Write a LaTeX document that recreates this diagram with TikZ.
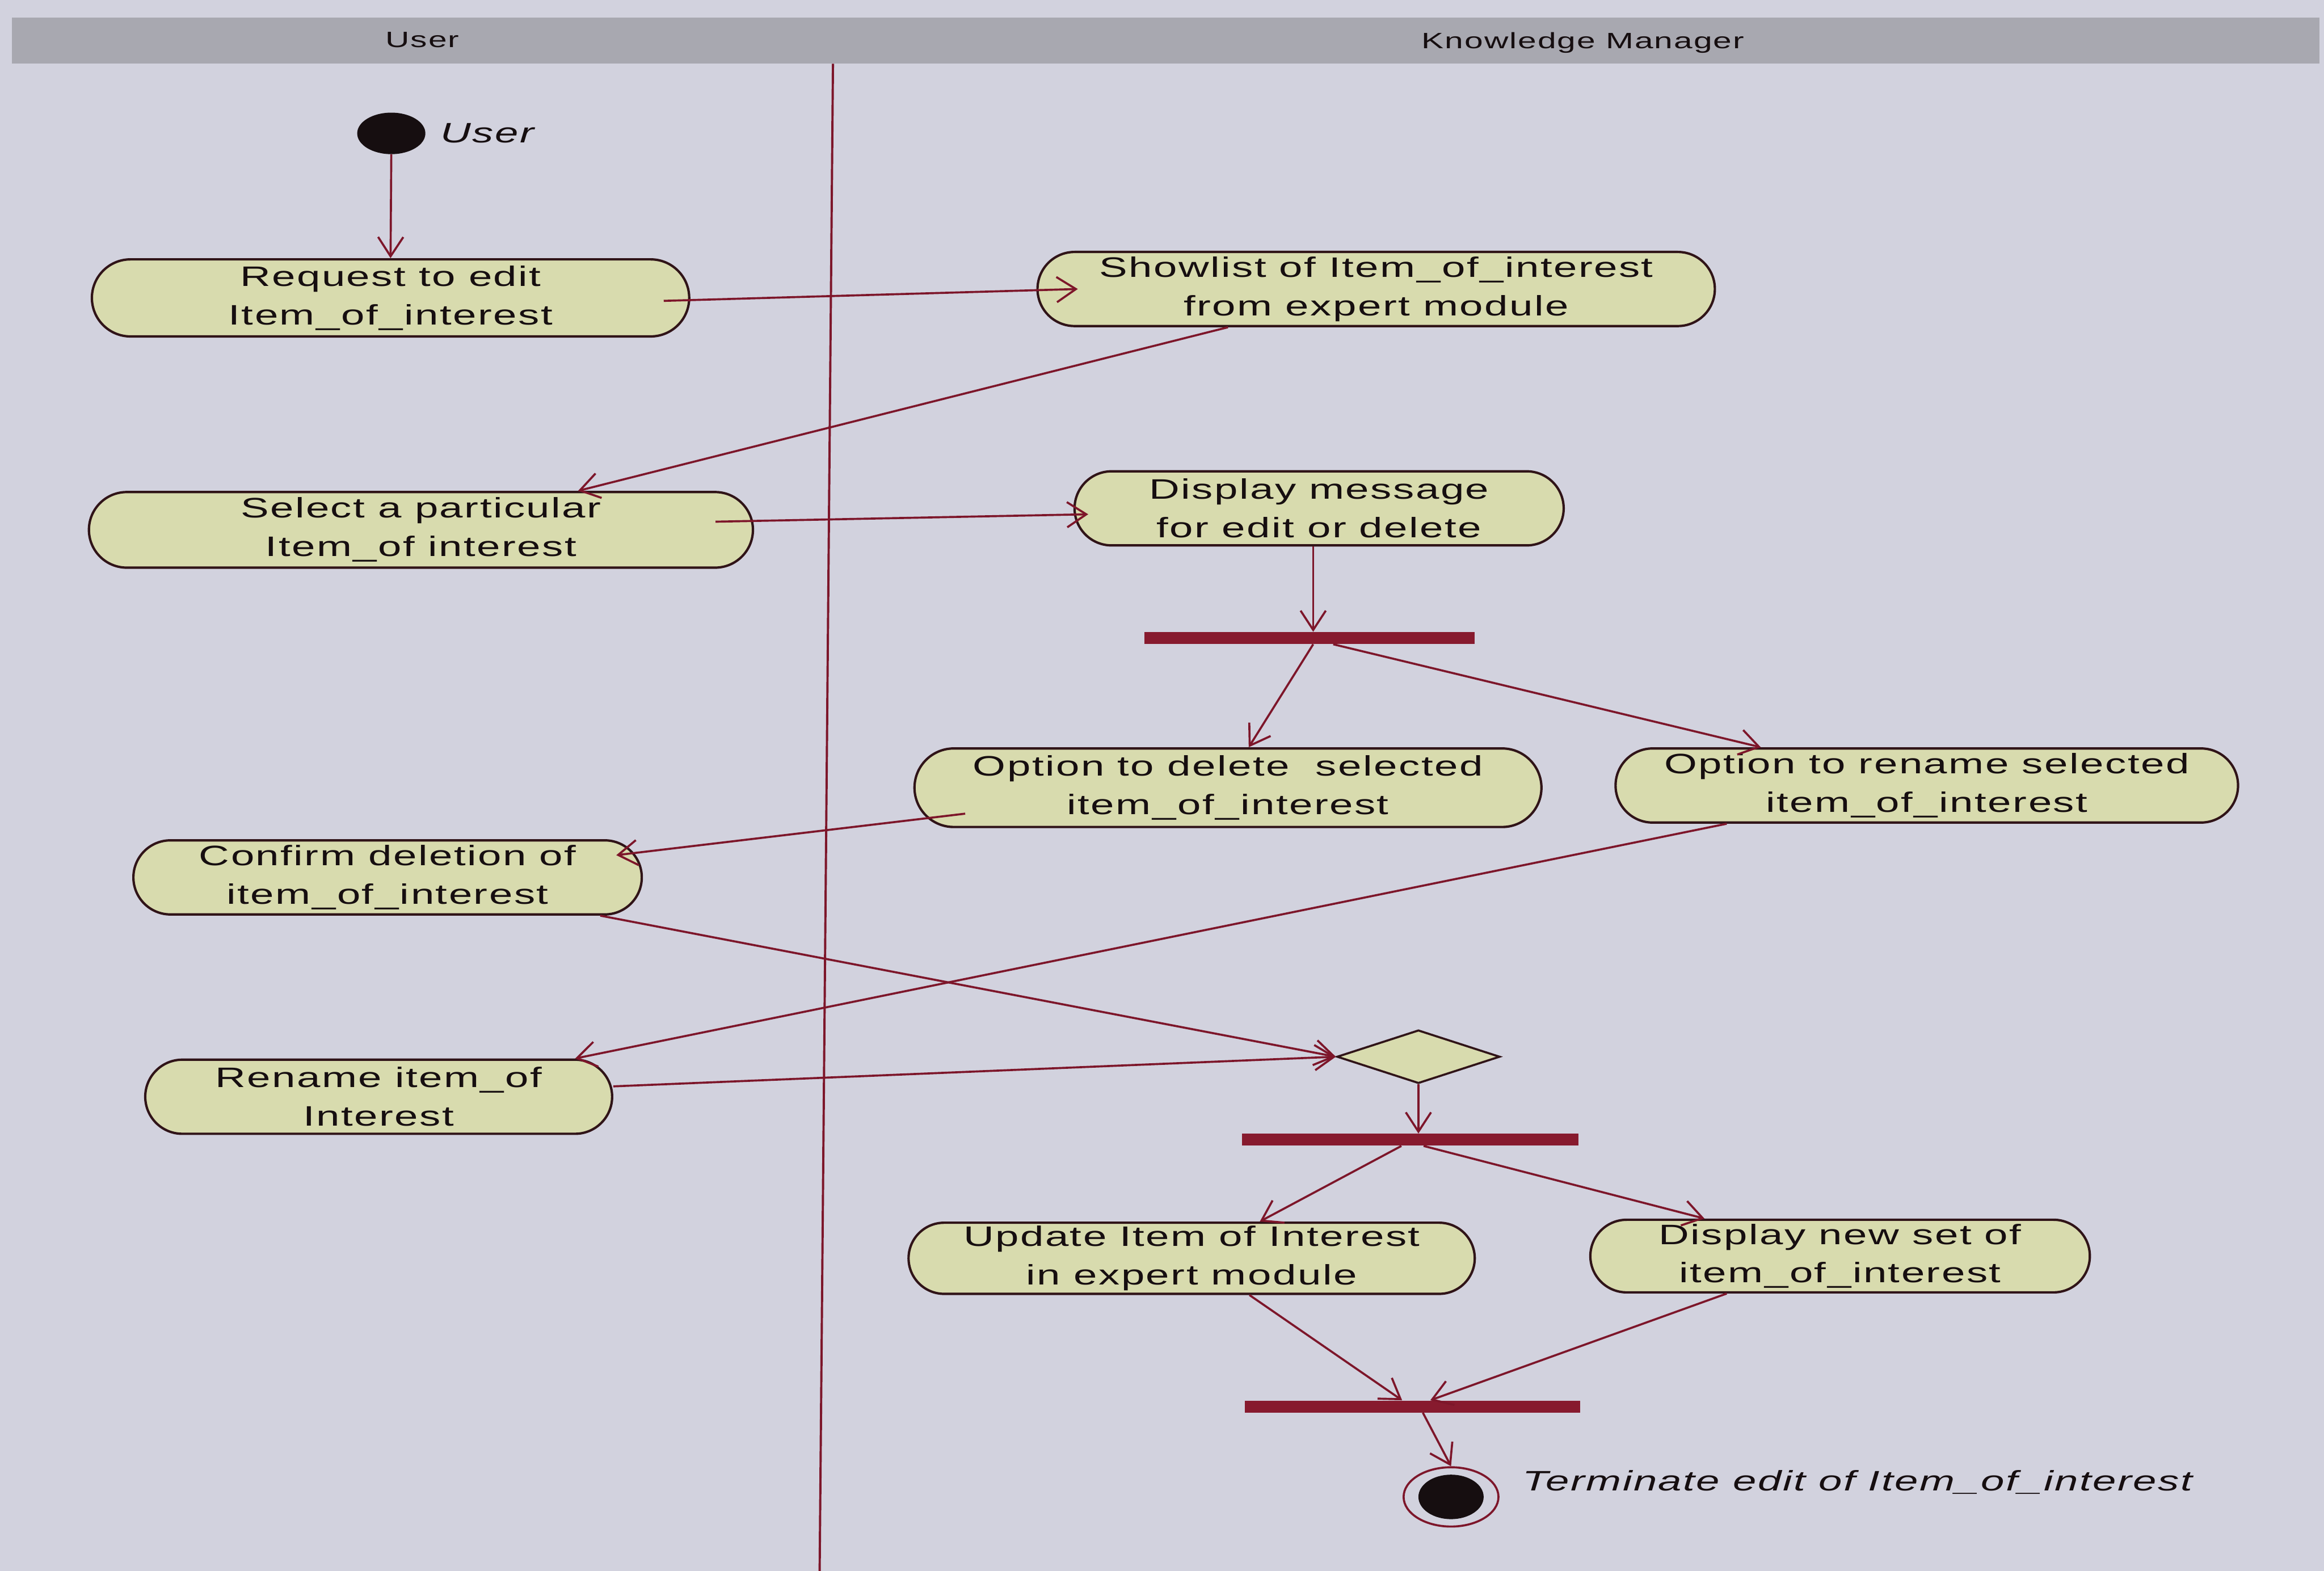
\documentclass[tikz,border=0pt]{standalone}
\usepackage{fontspec}
\setmainfont{Liberation Sans}
\newfontfamily\actfont{Liberation Sans}[FakeStretch=1.5,LetterSpace=5]
\usetikzlibrary{shapes.misc,shapes.geometric,arrows.meta,calc}
\definecolor{paper}{RGB}{210,210,222}
\definecolor{headband}{RGB}{168,168,176}
\definecolor{wine}{RGB}{125,22,42}
\definecolor{barwine}{RGB}{135,26,46}
\definecolor{khaki}{RGB}{216,219,174}
\definecolor{rimcol}{RGB}{48,20,24}
\definecolor{ink}{RGB}{22,14,16}
\begin{document}
\begin{tikzpicture}[x=1pt,y=-1pt,
  activity/.style={rounded rectangle, draw=rimcol, line width=1.6pt, fill=khaki,
    inner sep=0pt, align=center, text=ink,
    font=\actfont\fontsize{19}{26}\selectfont},
  syncbar/.style={rectangle, fill=barwine, inner sep=0pt, minimum height=8pt},
  flow/.style={draw=wine, line width=1.4pt,
    -{Straight Barb[length=13pt,width=17pt,line width=1.4pt]}},
  lanetitle/.style={inner sep=0pt, text=ink, font=\actfont\fontsize{15}{18}\selectfont},
  statelabel/.style={anchor=west, inner sep=0pt, text=ink,
    font=\actfont\itshape\fontsize{19}{22}\selectfont}
]
\useasboundingbox (0,0) rectangle (1568,1060);
\fill[paper] (0,0) rectangle (1568,1060);

% swimlane header and divider
\fill[headband] (8,12) rectangle (1565,43);
\node[lanetitle] (laneUser) at (285,27) {User};
\node[lanetitle] (laneKM) at (1068,29) {Knowledge Manager};
\coordinate (laneTop) at (562,43);
\coordinate (laneBot) at (553,1060);
\draw[wine, line width=1.5pt] (laneTop) -- (laneBot);

% initial state
\node[ellipse, fill=ink, minimum width=46pt, minimum height=28pt, inner sep=0pt] (start) at (264,90) {};
\node[statelabel] (startlbl) at (297,90) {User};

% activities
\node[activity, minimum width=403pt, minimum height=52pt] (req) at (263.5,201)
  {Request to edit\\Item\_of\_interest};
\node[activity, minimum width=457pt, minimum height=50pt] (show) at (928.5,195)
  {Showlist of Item\_of\_interest\\from expert module};
\node[activity, minimum width=448pt, minimum height=51pt] (sel) at (284,357.5)
  {Select a particular\\Item\_of interest};
\node[activity, minimum width=330pt, minimum height=50pt] (disp) at (890,343)
  {Display message\\for edit or delete};
\node[activity, minimum width=423pt, minimum height=53pt] (optdel) at (828.5,531.5)
  {Option to delete~ selected\\item\_of\_interest};
\node[activity, minimum width=420pt, minimum height=50pt] (optren) at (1300,530)
  {Option to rename selected\\item\_of\_interest};
\node[activity, minimum width=343pt, minimum height=50pt] (confirm) at (261.5,592)
  {Confirm deletion of\\item\_of\_interest};
\node[activity, minimum width=315pt, minimum height=50pt] (rename) at (255.5,740)
  {Rename item\_of\\Interest};
\node[activity, minimum width=382pt, minimum height=48pt] (update) at (804,849)
  {Update Item of Interest\\in expert module};
\node[activity, minimum width=337pt, minimum height=49pt] (dispnew) at (1241.5,847.5)
  {Display new set of\\item\_of\_interest};

% synchronisation bars and merge
\node[syncbar, minimum width=223pt] (fork1) at (883.5,430.5) {};
\node[diamond, draw=rimcol, fill=khaki, line width=1.4pt, aspect=3,
  minimum width=110pt, minimum height=36pt, inner sep=0pt] (merge) at (957,713) {};
\node[syncbar, minimum width=227pt] (fork2) at (951.5,769) {};
\node[syncbar, minimum width=226pt] (join) at (953,949) {};

% final state
\node[ellipse, draw=wine, line width=1.4pt, minimum width=64pt, minimum height=40pt, inner sep=0pt] (finish) at (979,1010) {};
\node[ellipse, fill=ink, minimum width=44pt, minimum height=30pt, inner sep=0pt] (finishdot) at (finish.center) {};
\node[statelabel] (finishlbl) at (1027,1000) {Terminate edit of Item\_of\_interest};

% transitions
\draw[flow] (start.south) -- (req.north);
\draw[flow] ([xshift=-18pt,yshift=-2pt]req.east) -- ([xshift=28pt]show.west);
\draw[flow] ([xshift=-100pt]show.south) -- ([xshift=106pt]sel.north);
\draw[flow] ([xshift=-26pt,yshift=5.5pt]sel.east) -- ([xshift=10pt,yshift=-4pt]disp.west);
\draw[flow] ([xshift=-4pt]disp.south) -- ([xshift=2.5pt]fork1.north);
\draw[flow] ([xshift=2.5pt]fork1.south) -- ([xshift=14pt]optdel.north);
\draw[flow] ([xshift=16pt]fork1.south) -- ([xshift=-112pt]optren.north);
\draw[flow] ([xshift=35pt,yshift=-17.5pt]optdel.west) -- ([xshift=-18pt,yshift=15pt]confirm.east);
\draw[flow] ([xshift=-135pt]optren.south) -- ([xshift=132.5pt]rename.north);
\draw[flow] ([xshift=143.5pt]confirm.south) -- (merge.west);
\draw[flow] ([yshift=7pt]rename.east) -- (merge.west);
\draw[flow] (merge.south) -- ([xshift=5.5pt]fork2.north);
\draw[flow] ([xshift=-6pt]fork2.south) -- ([xshift=46pt]update.north);
\draw[flow] ([xshift=9pt]fork2.south) -- ([xshift=-91.5pt]dispnew.north);
\draw[flow] ([xshift=39pt]update.south) -- ([xshift=-7pt]join.north);
\draw[flow] ([xshift=-76.5pt]dispnew.south) -- ([xshift=12pt]join.north);
\draw[flow] ([xshift=7pt]join.south) -- (finish.north);
\end{tikzpicture}
\end{document}
